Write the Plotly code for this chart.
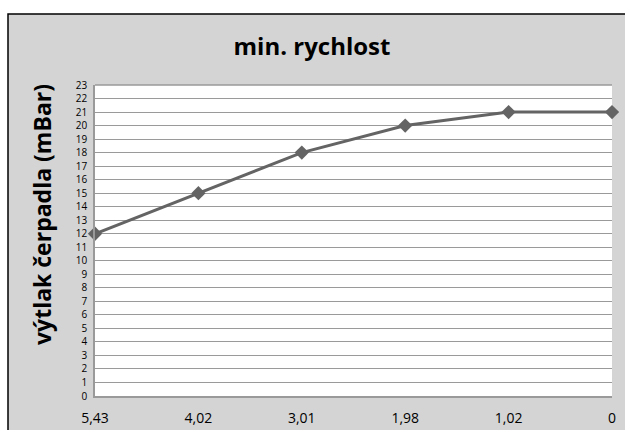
import plotly.graph_objects as go

categories = ["5,43", "4,02", "3,01", "1,98", "1,02", "0"]
values = [12, 15, 18, 20, 21, 21]
y_ticks = list(range(0, 24))

W, H = 625, 430
# plot area in page pixels: x 95..612, y 85..396
ml, mr, mt, mb = 95, 13, 85, 34
pw, ph = W - ml - mr, H - mt - mb

def px_x(p):  # page px -> paper
    return (p - ml) / pw

def px_y(p):
    return (H - mb - p) / ph

fig = go.Figure()
fig.add_trace(go.Scatter(
    x=categories, y=values, mode="lines+markers",
    line=dict(color="#646464", width=3),
    marker=dict(symbol="diamond", size=11, color="#646464"),
    cliponaxis=False, showlegend=False,
))

fig.update_layout(
    width=W, height=H,
    margin=dict(l=ml, r=mr, t=mt, b=mb, pad=0),
    paper_bgcolor="white",
    plot_bgcolor="white",
    title=dict(text="<b>min. rychlost</b>", x=312 / W, xref="container",
               xanchor="center",
               y=1 - 47 / H, yref="container", yanchor="middle",
               font=dict(family="Open Sans", size=24, color="black")),
    xaxis=dict(type="category", range=[0, 5], showgrid=False, automargin=False,
               showline=True, linecolor="#9a9a9a", linewidth=1.5,
               ticks="", tickfont=dict(family="Open Sans", size=14, color="black"),
               ticklabelstandoff=8),
    yaxis=dict(range=[0, 23], tickvals=y_ticks, ticktext=[str(t) for t in y_ticks],
               showgrid=True, gridcolor="#9a9a9a", gridwidth=1, automargin=False,
               showline=True, linecolor="#9a9a9a", linewidth=1.5, mirror=False,
               zeroline=False, ticks="",
               tickfont=dict(family="Open Sans", size=10, color="black"),
               ticklabelstandoff=4),
    annotations=[
        dict(text="<b>výtlak čerpadla (mBar)</b>", xref="paper", yref="paper",
             x=px_x(42), y=px_y(215), xanchor="center", yanchor="middle",
             textangle=-90, showarrow=False,
             font=dict(family="Open Sans", size=23, color="black")),
    ],
    shapes=[
        dict(type="rect", xref="paper", yref="paper",
             x0=px_x(8), x1=px_x(640), y0=px_y(445), y1=px_y(14),
             fillcolor="#d4d4d4", line=dict(color="black", width=1.5), layer="below"),
        dict(type="rect", xref="paper", yref="paper",
             x0=0, x1=1, y0=0, y1=1,
             fillcolor="white", line=dict(width=0), layer="below"),
        dict(type="line", xref="paper", yref="paper",
             x0=0, x1=1, y0=1, y1=1,
             line=dict(color="#9a9a9a", width=1.5), layer="below"),
    ],
)

fig.write_html(
    "out.html",
    config={"displayModeBar": False},
    post_script="document.body.style.margin='0';"
                "document.documentElement.style.overflow='hidden';"
                "document.body.style.overflow='hidden';",
)
